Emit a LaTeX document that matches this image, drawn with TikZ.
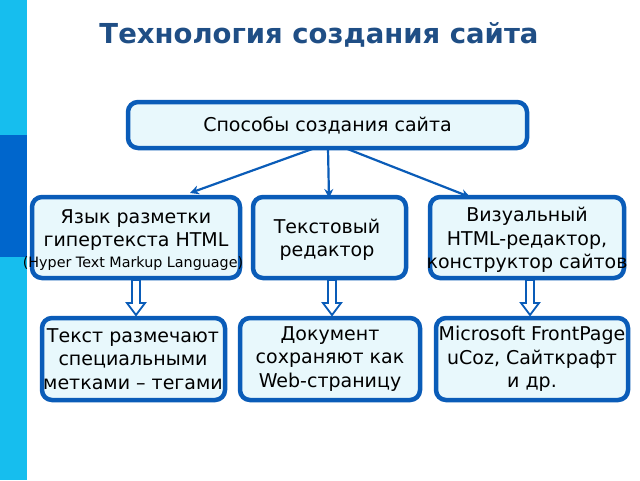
\documentclass[tikz,border=0pt]{standalone}
\usepackage{fontspec}
\setmainfont{DejaVu Sans}
\usetikzlibrary{arrows.meta}
\begin{document}
\begin{tikzpicture}[x=1pt,y=-1pt,
  box/.style={draw=bdr,line width=4.5pt,fill=boxfill,rounded corners=10pt,inner sep=0pt},
  txt/.style={align=center,font=\fontsize{19}{23.5}\selectfont,text=black},
  arr/.style={draw=bdr,line width=2.2pt,-{Stealth[length=9pt,width=9pt]}},
  hol/.style={draw=bdr,line width=1.8pt,fill=white,line join=miter}]
\definecolor{bdr}{HTML}{0A5CB8}
\definecolor{boxfill}{HTML}{E8F8FC}
\definecolor{ttl}{HTML}{1F4E85}
\definecolor{strip}{HTML}{16BEEE}
\definecolor{strip2}{HTML}{0066CC}
\useasboundingbox (0,0) rectangle (640,480);
\fill[white] (0,0) rectangle (640,480);
\fill[strip] (0,0) rectangle (27,480);
\fill[strip2] (0,135) rectangle (27,257);
\node[font=\fontsize{27.5}{32}\selectfont\bfseries,text=ttl] (title) at (319,35) {Технология создания сайта};
\node[box,minimum width=399pt,minimum height=46pt] (top) at (327.5,125) {};
\node[txt] at (top) {Способы создания сайта};
\node[box,minimum width=208pt,minimum height=81pt] (a) at (136,237.5) {};
\node[box,minimum width=153pt,minimum height=81pt] (b) at (329.5,237.5) {};
\node[box,minimum width=194pt,minimum height=81pt] (c) at (527,237.5) {};
\node[box,minimum width=183pt,minimum height=82pt] (d) at (133.5,359) {};
\node[box,minimum width=180pt,minimum height=82pt] (e) at (330,359) {};
\node[box,minimum width=192pt,minimum height=82pt] (f) at (532,359) {};
\node[txt] (ta) at (136,230) {Язык разметки\\гипертекста HTML};
\node[font=\fontsize{14.3}{16}\selectfont] (ta2) at (133,264) {(Hyper Text Markup Language)};
\node[txt] (tb) at (327,240) {Текстовый\\ редактор};
\node[txt] (tc) at (527,240) {Визуальный\\HTML-редактор,\\конструктор сайтов};
\node[txt] (td) at (133,359) {Текст размечают\\специальными\\метками – тегами};
\node[txt] (te) at (330,359) {Документ\\ сохраняют как\\Web-страницу};
\node[txt] (tf) at (532,359) {Microsoft FrontPage\\uCoz, Сайткрафт\\и др.};
\coordinate (s1) at (315,148); \coordinate (e1) at (190,193);
\coordinate (s2) at (328,148); \coordinate (e2) at (329,198);
\coordinate (s3) at (345,148); \coordinate (e3) at (470,197);
\draw[arr] (s1) -- (e1);
\draw[arr] (s2) -- (e2);
\draw[arr] (s3) -- (e3);
\foreach \x in {136,332,530}{
  \draw[hol] (\x-4,280) -- (\x+4,280) -- (\x+4,303) -- (\x+9,303) -- (\x,315) -- (\x-9,303) -- (\x-4,303) -- cycle;
}
\end{tikzpicture}
\end{document}
